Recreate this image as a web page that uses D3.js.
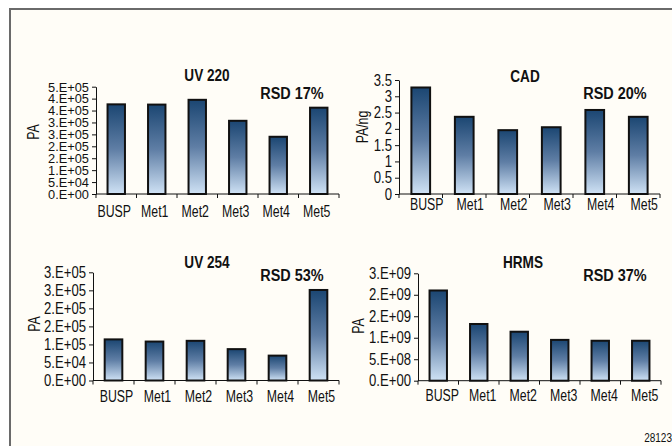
<!DOCTYPE html>
<html>
<head>
<meta charset="utf-8">
<script src="https://cdn.jsdelivr.net/npm/d3@7"></script>
<style>
  html, body { margin: 0; padding: 0; background: #ffffff; }
  svg { display: block; }
  text { font-family: "Liberation Sans", Arial, sans-serif; fill: #111; }
</style>
</head>
<body>
<svg id="chart" width="672" height="446"></svg>
<script>
// Sample labels shared by all four detectors
const categories = ["BUSP", "Met1", "Met2", "Met3", "Met4", "Met5"];

// Peak areas per detector
const uv220Values = [3.76e5, 3.75e5, 3.95e5, 3.07e5, 2.40e5, 3.62e5];
const cadValues   = [3.27, 2.37, 1.96, 2.05, 2.58, 2.37];
const uv254Values = [1.14e5, 1.08e5, 1.10e5, 0.87e5, 0.69e5, 2.51e5];
const hrmsValues  = [2.10e9, 1.32e9, 1.14e9, 0.95e9, 0.93e9, 0.93e9];

// Panel titles, y-axis titles and RSD annotations
const titles = ["UV 220", "CAD", "UV 254", "HRMS"];
const yTitles = ["PA", "PA/ng", "PA", "PA"];
const rsdLabels = ["RSD 17%", "RSD 20%", "RSD 53%", "RSD 37%"];

// Y-axis tick definitions (max, step)
const yMax  = [4.5e5, 3.5, 3.0e5, 2.5e9];
const yStep = [5e4, 0.5, 5e4, 5e8];
const yFormats = ["sci", "plain", "sci", "sci"];

const footnote = "28123";

const series = [uv220Values, cadValues, uv254Values, hrmsValues];

// Layout of each panel (plot box, text positions, tick lettering)
const panels = [
  { x0: 96,  x1: 339, yTop: 86.7,  yBase: 194,   yTitleX: 33,  yTitleY: 132, titleX: 207, titleY: 75,  rsdX: 292, rsdY: 93,  labelY: 211, labelDx: -2, tickFont: 13.5, tickSx: 0.95 },
  { x0: 399, x1: 660, yTop: 80,    yBase: 194,   yTitleX: 362, yTitleY: 127, titleX: 525, titleY: 76,  rsdX: 615, rsdY: 93,  labelY: 204, labelDx: 6,  tickFont: 16,   tickSx: 0.82 },
  { x0: 93,  x1: 339, yTop: 272.3, yBase: 380.5, yTitleX: 34,  yTitleY: 324, titleX: 207, titleY: 262, rsdX: 292, rsdY: 275, labelY: 396, labelDx: 3,  tickFont: 16,   tickSx: 0.82 },
  { x0: 418, x1: 661, yTop: 273.3, yBase: 380.7, yTitleX: 358, yTitleY: 326, titleX: 523, titleY: 262, rsdX: 615, rsdY: 275, labelY: 395, labelDx: 4,  tickFont: 16,   tickSx: 0.82 }
];

// Condensed lettering: regular sans squeezed horizontally
const FONT = 16, SX = 0.77;
const BOLD_FONT = 16, BOLD_SX = 0.85;

const svg = d3.select("#chart");

// Bar fill: dark navy on top fading to pale blue at the base
const defs = svg.append("defs");
const grad = defs.append("linearGradient")
  .attr("id", "barGrad").attr("x1", 0).attr("y1", 0).attr("x2", 0).attr("y2", 1);
grad.append("stop").attr("offset", "0%").attr("stop-color", "#1b4672");
grad.append("stop").attr("offset", "50%").attr("stop-color", "#5f7ea5");
grad.append("stop").attr("offset", "100%").attr("stop-color", "#cfe2f5");

// Page frame
svg.append("rect").attr("x", 0).attr("y", 0).attr("width", 672).attr("height", 446).attr("fill", "#ffffff");
svg.append("rect").attr("x", 10).attr("y", 9).attr("width", 700).attr("height", 480)
  .attr("fill", "#fffdf7").attr("stroke", "#6a6a6a").attr("stroke-width", 2);

function sciFormat(v) {
  const [m, e] = v.toExponential(0).split("e");
  const ex = parseInt(e, 10);
  const sign = ex < 0 ? "-" : "+";
  return m + ".E" + sign + String(Math.abs(ex)).padStart(2, "0");
}

// Places a squeezed text label at (x, y), optionally rotated
function label(parent, x, y, str, opts = {}) {
  const sx = opts.bold ? BOLD_SX : SX;
  const rot = opts.rotate ? ` rotate(${opts.rotate})` : "";
  return parent.append("text")
    .attr("transform", `translate(${x},${y})${rot} scale(${sx},1)`)
    .attr("dy", "0.35em")
    .attr("text-anchor", opts.anchor || "middle")
    .attr("font-weight", opts.bold ? "bold" : null)
    .attr("font-size", opts.size || (opts.bold ? BOLD_FONT : FONT))
    .text(str);
}

panels.forEach((p, i) => {
  const g = svg.append("g");
  const values = series[i];

  const x = d3.scaleBand().domain(categories).range([p.x0, p.x1])
    .paddingInner(0.57).paddingOuter(0.285);
  const xb = d3.scaleBand().domain(categories).range([p.x0, p.x1]).padding(0);
  const y = d3.scaleLinear().domain([0, yMax[i]]).range([p.yBase, p.yTop]);

  // Bars
  g.selectAll("rect.bar").data(values).join("rect")
    .attr("class", "bar")
    .attr("x", (d, j) => x(categories[j]))
    .attr("width", x.bandwidth())
    .attr("y", d => y(d))
    .attr("height", d => y(0) - y(d))
    .attr("fill", "url(#barGrad)")
    .attr("stroke", "#111")
    .attr("stroke-width", 2);

  // Y axis
  const ticks = d3.range(0, yMax[i] + yStep[i] / 2, yStep[i]);
  const fmt = yFormats[i] === "sci" ? sciFormat : d3.format("");
  const yAxis = d3.axisLeft(y).tickValues(ticks).tickFormat(fmt).tickSize(4).tickSizeOuter(0).tickPadding(3);
  const ya = g.append("g").attr("transform", `translate(${p.x0},0)`).call(yAxis);
  ya.attr("font-family", null).attr("font-size", null);
  ya.select(".domain").attr("stroke", "#111");
  ya.selectAll(".tick line").attr("stroke", "#111");
  ya.selectAll(".tick text")
    .attr("font-size", p.tickFont).attr("fill", "#111")
    .attr("x", -7 / p.tickSx)
    .attr("transform", `scale(${p.tickSx},1)`);

  // X axis with boundary ticks
  g.append("line").attr("x1", p.x0).attr("x2", p.x1).attr("y1", p.yBase).attr("y2", p.yBase)
    .attr("stroke", "#111").attr("stroke-width", 1);
  const bounds = categories.map(c => xb(c)).concat([p.x1]);
  g.selectAll("line.xtick").data(bounds).join("line")
    .attr("class", "xtick")
    .attr("x1", d => d).attr("x2", d => d)
    .attr("y1", p.yBase).attr("y2", p.yBase + 4)
    .attr("stroke", "#111");
  categories.forEach(c => {
    label(g, xb(c) + xb.bandwidth() / 2 + p.labelDx, p.labelY, c);
  });

  // Y-axis title
  label(g, p.yTitleX, p.yTitleY, yTitles[i], { rotate: -90 });

  // Panel title and RSD note
  label(g, p.titleX, p.titleY, titles[i], { bold: true });
  label(g, p.rsdX, p.rsdY, rsdLabels[i], { bold: true, size: 17 });
});

label(svg, 672, 437, footnote, { anchor: "end", size: 13 }).attr("fill", "#222");
</script>
</body>
</html>
